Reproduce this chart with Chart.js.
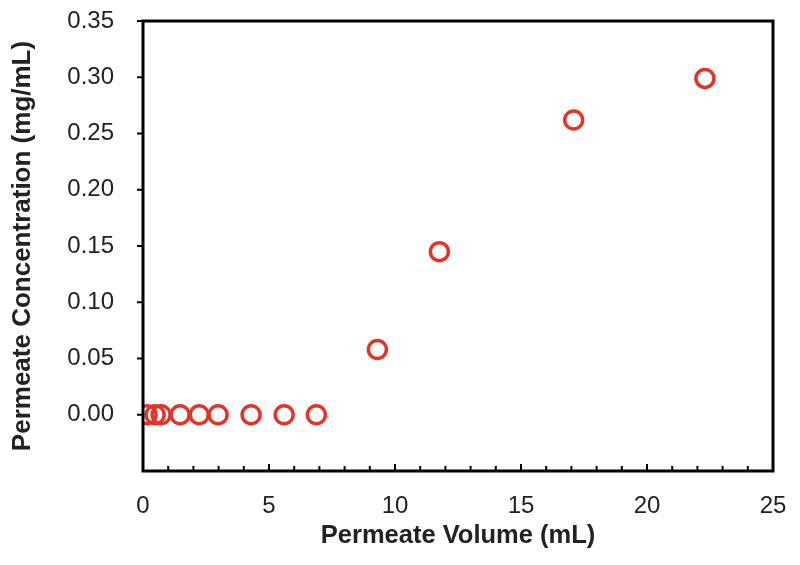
<!DOCTYPE html>
<html>
<head>
<meta charset="utf-8">
<script src="https://cdn.jsdelivr.net/npm/chart.js@4"></script>
<style>
  html, body { margin: 0; padding: 0; background: #fff; }
  #wrap { width: 800px; height: 565px; }
</style>
</head>
<body>
<div id="wrap"><canvas id="permeateChart" width="800" height="565"></canvas></div>
<script>
// Permeate volume (mL) and concentration (mg/mL)
const volume = [0.16, 0.48, 0.72, 1.47, 2.23, 2.98, 4.29, 5.6, 6.88, 9.3, 11.76, 17.09, 22.3];
const concentration = [0, 0, 0, 0, 0, 0, 0, 0, 0, 0.058, 0.145, 0.262, 0.299];

const xTicks = [0, 5, 10, 15, 20, 25];
const yTicks = [0.00, 0.05, 0.10, 0.15, 0.20, 0.25, 0.30, 0.35];

const red = 'rgb(228, 52, 40)';
const font = 'Liberation Sans, Arial, sans-serif';

// frame and tick marks (x ticks point inward, y ticks outward)
const frameTicks = {
    id: 'frameTicks',
    afterDraw(chart) {
        const ctx = chart.ctx;
        const a = chart.chartArea;
        const xs = chart.scales.x, ys = chart.scales.y;
        ctx.save();
        ctx.strokeStyle = '#000';
        ctx.lineWidth = 2;
        for (let v = 1; v < 25; v++) {
            const px = xs.getPixelForValue(v);
            const len = v % 5 === 0 ? 7 : 5;
            ctx.beginPath();
            ctx.moveTo(px, a.bottom);
            ctx.lineTo(px, a.bottom - len);
            ctx.stroke();
        }
        yTicks.forEach(function(v) {
            const py = ys.getPixelForValue(v);
            ctx.beginPath();
            ctx.moveTo(a.left, py);
            ctx.lineTo(a.left - 6, py);
            ctx.stroke();
        });
        ctx.lineWidth = 3;
        ctx.strokeRect(a.left, a.top, a.right - a.left, a.bottom - a.top);
        ctx.restore();
    }
};

const permeateChart = document.getElementById('permeateChart');
new Chart(permeateChart, {
    type: 'scatter',
    data: {
        datasets: [{
            data: volume.map(function(v, i) { return { x: v, y: concentration[i] }; }),
            pointStyle: 'circle',
            pointRadius: 9,
            pointHoverRadius: 9,
            borderWidth: 3.5,
            borderColor: red,
            backgroundColor: 'rgba(0,0,0,0)'
        }]
    },
    options: {
        responsive: false,
        animation: false,
        layout: { padding: { top: 21, right: 27, left: 0, bottom: 14 } },
        plugins: {
            legend: { display: false },
            tooltip: { enabled: false }
        },
        scales: {
            x: {
                type: 'linear',
                min: 0,
                max: 25,
                border: { display: false },
                grid: { display: false },
                ticks: {
                    stepSize: 1,
                    autoSkip: false,
                    maxRotation: 0,
                    padding: 13,
                    color: '#222',
                    font: { family: font, size: 24 },
                    callback: function(v) { return xTicks.includes(v) ? String(v) : ''; }
                },
                title: {
                    display: true,
                    text: 'Permeate Volume (mL)',
                    color: '#222',
                    font: { family: font, size: 25.5, weight: 'bold' },
                    padding: { top: 4, bottom: 0 }
                },
                afterFit: function(scale) { scale.height = 80; }
            },
            y: {
                min: -0.05,
                max: 0.35,
                border: { display: false },
                grid: { display: false },
                ticks: {
                    stepSize: 0.05,
                    padding: 21,
                    color: '#222',
                    font: { family: font, size: 24 },
                    callback: function(v) { return v < -0.001 ? '' : Math.abs(v).toFixed(2); }
                },
                title: {
                    display: true,
                    text: 'Permeate Concentration (mg/mL)',
                    color: '#222',
                    font: { family: font, size: 26, weight: 'bold' },
                    padding: { top: 7, bottom: 8 }
                },
                afterFit: function(scale) {
                    scale.width = 143;
                    scale.paddingTop = 0;
                    scale.paddingBottom = 0;
                }
            }
        }
    },
    plugins: [frameTicks]
});
</script>
</body>
</html>
